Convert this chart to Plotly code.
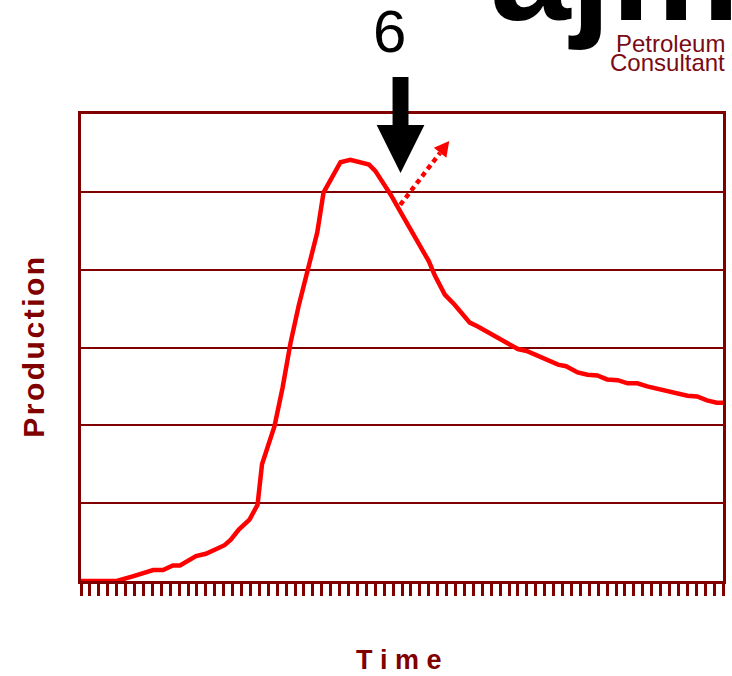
import plotly.graph_objects as go

# ---- data ----
time_months = [0, 4.0, 5.8, 8.1, 9.2, 10.3, 11.1, 12.9, 14.0, 15.0, 16.1, 16.8, 17.7, 18.9, 19.8,
               20.3, 21.7, 22.6, 23.5, 24.4, 25.5, 26.5, 27.2, 29.1, 30.2, 32.3, 33.0, 34.7, 36.2,
               37.8, 39.0, 39.7, 40.8, 41.9, 43.6, 44.5, 46.2, 47.3, 48.4, 49.0, 50.1, 51.2, 52.3,
               53.5, 54.4, 55.7, 56.8, 57.9, 59.0, 60.2, 61.3, 62.4, 63.5, 64.6, 65.7, 66.9, 68.0,
               69.1, 70.2, 71.3, 72.0]
production = [0, 0, 0.06, 0.14, 0.14, 0.20, 0.20, 0.32, 0.35, 0.41, 0.46, 0.53, 0.66, 0.79, 0.98,
              1.50, 1.99, 2.48, 3.06, 3.53, 4.05, 4.48, 4.99, 5.38, 5.41, 5.35, 5.27, 4.97, 4.67,
              4.35, 4.11, 3.92, 3.68, 3.55, 3.32, 3.27, 3.16, 3.09, 3.03, 2.98, 2.95, 2.90, 2.85,
              2.78, 2.76, 2.68, 2.65, 2.64, 2.59, 2.58, 2.54, 2.54, 2.50, 2.47, 2.45, 2.41, 2.38,
              2.37, 2.32, 2.29, 2.29]

x_range = [0, 72]
y_range = [0, 6]
stage_label = "6"
x_title = "T\u00a0i\u00a0m\u00a0e"
y_title = "P\u200ar\u200ao\u200ad\u200au\u200ac\u200at\u200ai\u200ao\u200an"
logo_big = "ajm"
logo_line1 = "Petroleum"
logo_line2 = "Consultant"

MAROON = "#800000"
FONT = "Liberation Sans, Arial, sans-serif"

fig = go.Figure()
fig.add_trace(go.Scatter(
    x=time_months, y=production, mode="lines",
    line=dict(color="#ff0000", width=4.5),
    hoverinfo="skip", showlegend=False,
))

fig.update_layout(
    width=732, height=676,
    margin=dict(l=81, r=6, t=114, b=95),
    paper_bgcolor="white", plot_bgcolor="white",
    showlegend=False,
    xaxis=dict(
        range=x_range, showgrid=False, zeroline=False,
        showline=True, mirror=True, linecolor=MAROON, linewidth=3,
        ticks="outside", ticklen=12, tickwidth=3, tickcolor=MAROON,
        tick0=0, dtick=1, showticklabels=False, layer="below traces",
    ),
    yaxis=dict(
        range=y_range, showgrid=True, gridcolor=MAROON, gridwidth=2,
        zeroline=False, dtick=1,
        showline=True, mirror=True, linecolor=MAROON, linewidth=3,
        ticks="", showticklabels=False, layer="below traces",
    ),
)

# decorative arrows
fig.add_shape(type="path", xref="paper", yref="paper",
              path="M 0.4853,1.0791 L 0.5101,1.0791 L 0.5101,0.9765 L 0.5349,0.9765 "
                   "L 0.4977,0.8738 L 0.4605,0.9765 L 0.4853,0.9765 Z",
              fillcolor="black", line=dict(width=0))
fig.add_shape(type="line", xref="paper", yref="paper",
              x0=0.4972, y0=0.8053, x1=0.5594, y1=0.9170,
              line=dict(color="#ff0000", width=4.5, dash="5px,4px"))
fig.add_shape(type="path", xref="paper", yref="paper",
              path="M 0.5736,0.9422 L 0.5691,0.9065 L 0.5496,0.9275 Z",
              fillcolor="#ff0000", line=dict(width=0))

ann = [
    dict(text=stage_label, x=0.4806, y=1.1775, xanchor="center", yanchor="middle",
         font=dict(family=FONT, size=60, color="black")),
    dict(text="<b>" + y_title + "</b>", x=-0.0744, y=0.5, xanchor="center", yanchor="middle",
         textangle=-90, font=dict(family=FONT, size=30, color=MAROON)),
    dict(text="<b>" + x_title + "</b>", x=0.4946, y=-0.170, xanchor="center", yanchor="middle",
         font=dict(family=FONT, size=27, color=MAROON)),
    dict(text="<b>" + logo_big + "</b>", x=0.6341, y=1.1315, xanchor="left", yanchor="bottom",
         font=dict(family=FONT, size=145, color="black")),
    dict(text=logo_line1, x=1.0062, y=1.1176, xanchor="right", yanchor="bottom",
         font=dict(family=FONT, size=24, color="#7a0a14")),
    dict(text=logo_line2, x=1.0062, y=1.077, xanchor="right", yanchor="bottom",
         font=dict(family=FONT, size=24, color="#7a0a14")),
]
for a in ann:
    a.update(xref="paper", yref="paper", showarrow=False)
    fig.add_annotation(**a)

fig.write_html("out.html")
